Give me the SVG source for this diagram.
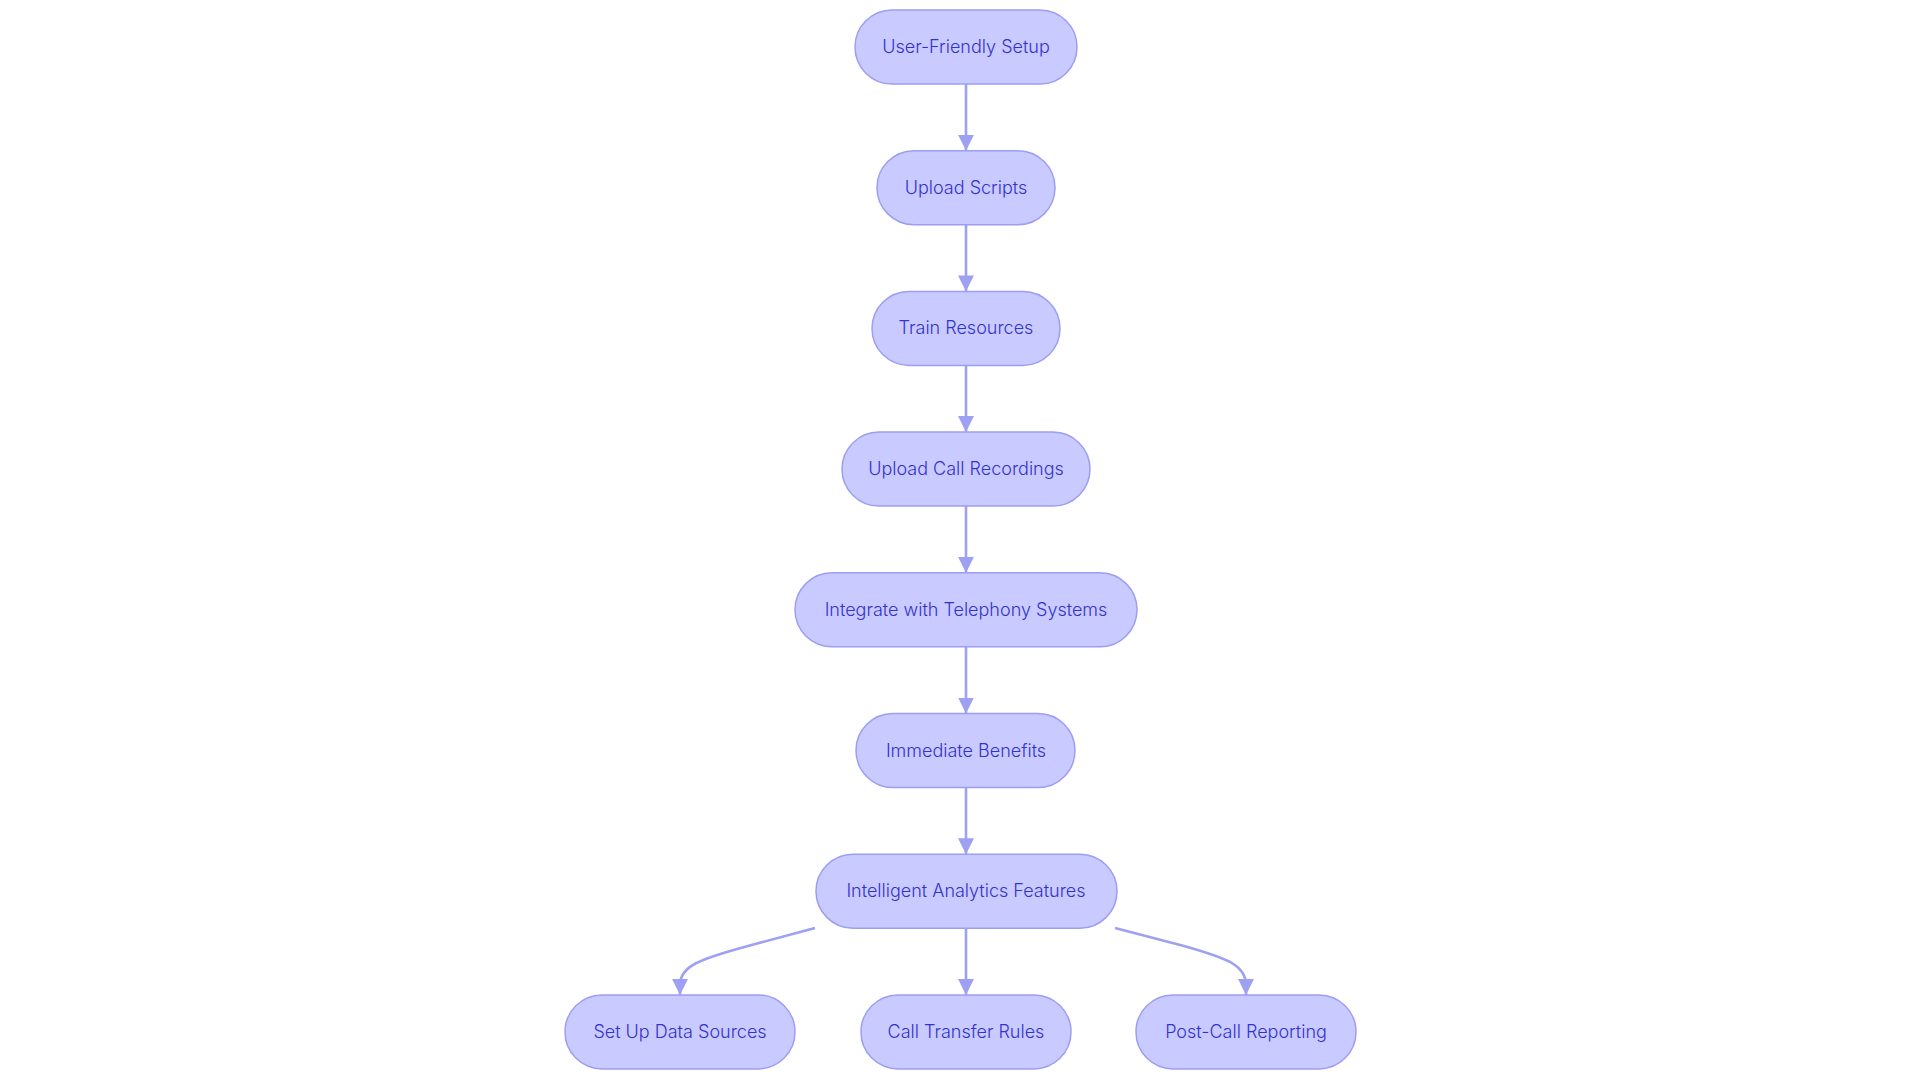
<svg xmlns="http://www.w3.org/2000/svg" width="1920" height="1083" viewBox="0 0 1920 1083">
<defs>
<style>
.node rect{fill:#C9CAFF;stroke:#9C9EF2;stroke-width:1.5}
.node text{font-family:Inter,"Liberation Sans",sans-serif;font-size:18px;font-weight:350;fill:#3333CC;text-anchor:middle}
.edge{fill:none;stroke:#9EA0F2;stroke-width:2.6}
</style>
<marker id="arrow" viewBox="0 0 10 10" refX="10" refY="5" markerWidth="16" markerHeight="16" markerUnits="userSpaceOnUse" orient="auto">
<path d="M0,0 L10,5 L0,10 z" fill="#9EA0F2"/>
</marker>
</defs>
<rect width="1920" height="1083" fill="#FFFFFF"/>
<g id="connectors">
<path class="edge" d="M966,84 L966,150.7" marker-end="url(#arrow)"/>
<path class="edge" d="M966,224.7 L966,291.4" marker-end="url(#arrow)"/>
<path class="edge" d="M966,365.4 L966,432.1" marker-end="url(#arrow)"/>
<path class="edge" d="M966,506.1 L966,572.8" marker-end="url(#arrow)"/>
<path class="edge" d="M966,646.8 L966,713.5" marker-end="url(#arrow)"/>
<path class="edge" d="M966,787.5 L966,854.2" marker-end="url(#arrow)"/>
<path class="edge" d="M815,928 L748,946 C700,959 680,966 680,985 L680,994.9" marker-end="url(#arrow)"/>
<path class="edge" d="M966,928.2 L966,994.9" marker-end="url(#arrow)"/>
<path class="edge" d="M1115,928 L1184,946 C1230,959 1246,966 1246,985 L1246,994.9" marker-end="url(#arrow)"/>
</g>
<g id="n1" class="node"><rect x="855" y="10" width="222" height="74" rx="37"/><text x="966" y="53">User-Friendly Setup</text></g>
<g id="n2" class="node"><rect x="877" y="150.7" width="178" height="74" rx="37"/><text x="966" y="193.7">Upload Scripts</text></g>
<g id="n3" class="node"><rect x="872" y="291.4" width="188" height="74" rx="37"/><text x="966" y="334.4">Train Resources</text></g>
<g id="n4" class="node"><rect x="842" y="432.1" width="248" height="74" rx="37"/><text x="966" y="475.1">Upload Call Recordings</text></g>
<g id="n5" class="node"><rect x="795" y="572.8" width="342" height="74" rx="37"/><text x="966" y="615.8">Integrate with Telephony Systems</text></g>
<g id="n6" class="node"><rect x="856" y="713.5" width="219" height="74" rx="37"/><text x="966" y="756.5">Immediate Benefits</text></g>
<g id="n7" class="node"><rect x="816" y="854.2" width="301" height="74" rx="37"/><text x="966" y="897.2">Intelligent Analytics Features</text></g>
<g id="n8" class="node"><rect x="565" y="994.9" width="230" height="74" rx="37"/><text x="680" y="1037.9">Set Up Data Sources</text></g>
<g id="n9" class="node"><rect x="861" y="994.9" width="210" height="74" rx="37"/><text x="966" y="1037.9">Call Transfer Rules</text></g>
<g id="n10" class="node"><rect x="1136" y="994.9" width="220" height="74" rx="37"/><text x="1246" y="1037.9">Post-Call Reporting</text></g>
</svg>
